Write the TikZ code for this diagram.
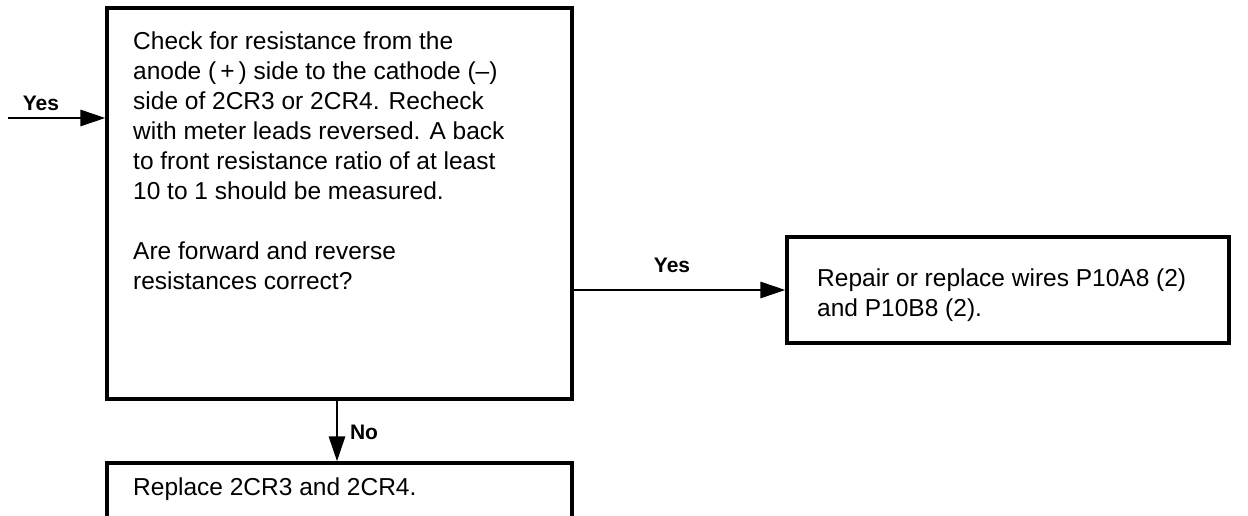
\documentclass[tikz,border=0pt]{standalone}
\usepackage{fontspec}
\setmainfont{Liberation Sans}
\usetikzlibrary{arrows.meta}
\begin{document}
\begin{tikzpicture}[x=1pt,y=-1pt,
  boxst/.style={draw,line width=3.2pt,inner sep=0pt},
  txt/.style={inner sep=0pt,align=left,anchor=north west,font=\fontsize{24.5}{30}\selectfont},
  lbl/.style={inner sep=0pt,font=\fontsize{21}{24}\selectfont\bfseries},
  arr/.style={line width=2.8pt,-{Triangle[length=25pt,width=16pt]}}]
\useasboundingbox (0,0) rectangle (1248,516);
\clip (0,0) rectangle (1248,516);
\node[boxst,minimum width=465pt,minimum height=391pt] (main) at (339.5,203.5) {};
\node[boxst,minimum width=442pt,minimum height=106pt] (right) at (1008,290) {};
\node[boxst,minimum width=465pt,minimum height=110pt] (bottom) at (339.5,518) {};
\node[txt] (maintext) at (133,32) {Check for resistance from the\\
anode (\,+\,) side to the cathode (–)\\
side of 2CR3 or 2CR4. Recheck\\
with meter leads reversed. A back\\
to front resistance ratio of at least\\
10 to 1 should be measured.\\[30pt]
Are forward and reverse\\
resistances correct?};
\node[txt] (righttext) at (817,269) {Repair or replace wires P10A8 (2)\\
and P10B8 (2).};
\node[txt] (bottomtext) at (133,478) {Replace 2CR3 and 2CR4.};
\coordinate (inl) at (8,118);
\draw[arr] (inl) -- (inl -| main.west);
\node[lbl] (yes1) at (41,103) {Yes};
\draw[arr] (main.east |- right.west) -- (right.west);
\node[lbl] (yes2) at (672,265) {Yes};
\coordinate (dtop) at (337,399);
\draw[arr] (dtop) -- (dtop |- bottom.north);
\node[lbl] (no) at (364,432) {No};
\end{tikzpicture}
\end{document}
